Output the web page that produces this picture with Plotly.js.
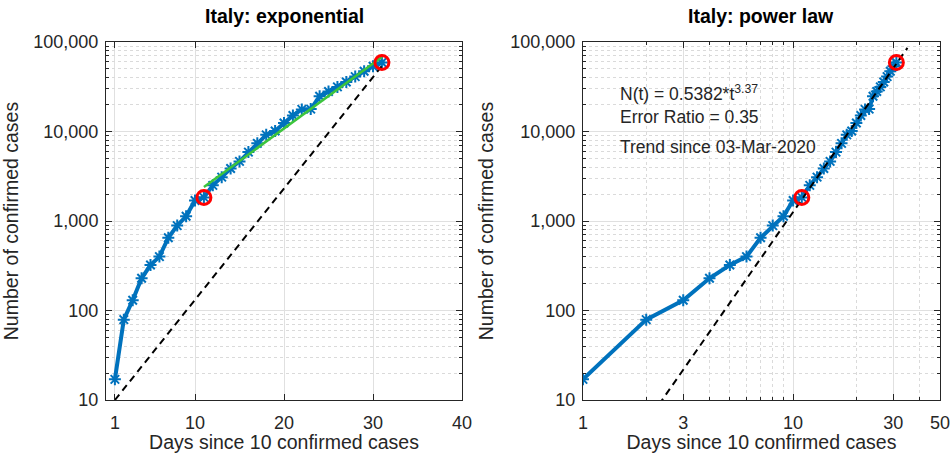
<!DOCTYPE html>
<html><head><meta charset="utf-8">
<script src="https://cdn.plot.ly/plotly-3.0.1.min.js"></script>
<style>html,body{margin:0;padding:0;background:#fff;}#chart{width:952px;height:453px;}</style>
</head><body><div id="chart"></div>
<script>
// ---- data ----
const days = [1,2,3,4,5,6,7,8,9,10,11,12,13,14,15,16,17,18,19,20,21,22,23,24,25,26,27,28,29,30,31];
const cases = [17,79,130,229,322,400,650,888,1128,1694,1835,2502,3089,3858,4636,5883,7375,9172,10149,12462,15113,17660,17800,24747,27980,31506,35713,41035,47021,53578,59138];
const trendDays = [11,31];
const trendCases = [1835,59138];
const expFitDays = [11,31];
const expFitCases = [2400,68000];
const expRefDays = [1,31];
const expRefCases = [10,54000];
const powFitDays = [2.3,35];
const powFitCases = [8.9,86000];
const yTickVals = [10,100,1000,10000,100000];
const yTickText = ['10','100','1,000','10,000','100,000'];
const yMinorVals = [20,30,40,50,60,70,80,90,200,300,400,500,600,700,800,900,2000,3000,4000,5000,6000,7000,8000,9000,20000,30000,40000,50000,60000,70000,80000,90000];
const xLinTickVals = [1,10,20,30,40];
const xLogTickVals = [1,3,10,30,50];
const xLogMinorVals = [2,4,5,6,7,8,9,20,40];
const fitText = ['N(t) = 0.5382*t<sup>3.37</sup>','Error Ratio = 0.35','Trend since 03-Mar-2020'];

const FONT = 'Liberation Sans, Arial, Helvetica, sans-serif';
const TXT = '#262626';
const BLUE = '#0072BD';

const dataLine = {mode:'lines+markers', line:{color:BLUE,width:4},
  marker:{symbol:'asterisk-open',size:10,color:BLUE,line:{color:BLUE,width:2}}};
const circ = {mode:'markers', marker:{symbol:'circle-open',size:14,color:'#FF0000',line:{color:'#FF0000',width:3}}};
const dash = {mode:'lines', line:{color:'#000',width:2,dash:'7px,5px'}};

const traces = [
  Object.assign({x:days,y:cases,xaxis:'x',yaxis:'y'},dataLine),
  {x:expFitDays,y:expFitCases,xaxis:'x',yaxis:'y',mode:'lines',line:{color:'#3CC43C',width:2.5}},
  Object.assign({x:expRefDays,y:expRefCases,xaxis:'x',yaxis:'y'},dash),
  Object.assign({x:trendDays,y:trendCases,xaxis:'x',yaxis:'y3'},circ),
  Object.assign({x:days,y:cases,xaxis:'x2',yaxis:'y2'},dataLine),
  Object.assign({x:powFitDays,y:powFitCases,xaxis:'x2',yaxis:'y4'},dash),
  Object.assign({x:trendDays,y:trendCases,xaxis:'x4',yaxis:'y2'},circ)
];

const tickFont = {family:FONT,size:18,color:TXT};
const titleFont = {family:FONT,size:19.5,color:TXT};
const common = {showline:true,linecolor:TXT,linewidth:1,mirror:'ticks',ticks:'inside',ticklen:6,tickcolor:TXT,
  showgrid:true,gridcolor:'#e0e0e0',gridwidth:1,zeroline:false,automargin:false,tickfont:tickFont};
const minor = {showline:false,showticklabels:false,ticks:'inside',ticklen:3,tickcolor:TXT,mirror:'ticks',
  showgrid:true,gridcolor:'#dadada',griddash:'dot',gridwidth:1,zeroline:false,automargin:false};

const D1 = [0,0.4269], D2 = [0.5719,1];
const layout = {
  width:952,height:453,paper_bgcolor:'#fff',plot_bgcolor:'#fff',showlegend:false,
  margin:{l:106,r:12,t:42,b:53},
  font:{family:FONT,color:TXT},
  xaxis:Object.assign({},common,{domain:D1,anchor:'y',range:[0,40],tickvals:xLinTickVals,ticklabelstandoff:6,
    title:{text:'Days since 10 confirmed cases',font:titleFont,standoff:4}}),
  yaxis:Object.assign({},common,{domain:[0,1],anchor:'x',type:'log',range:[1,5],tickvals:yTickVals,ticktext:yTickText,ticklabelstandoff:3,
    title:{text:'Number of confirmed cases',font:titleFont,standoff:11}}),
  yaxis3:Object.assign({},minor,{overlaying:'y',anchor:'x',type:'log',range:[1,5],tickvals:yMinorVals}),
  xaxis2:Object.assign({},common,{domain:D2,anchor:'y2',type:'log',range:[0,Math.log10(50)],tickvals:xLogTickVals,ticklabelstandoff:6,
    title:{text:'Days since 10 confirmed cases',font:titleFont,standoff:4}}),
  yaxis2:Object.assign({},common,{domain:[0,1],anchor:'x2',type:'log',range:[1,5],tickvals:yTickVals,ticktext:yTickText,ticklabelstandoff:3,
    title:{text:'Number of confirmed cases',font:titleFont,standoff:11}}),
  xaxis4:Object.assign({},minor,{overlaying:'x2',anchor:'y2',type:'log',range:[0,Math.log10(50)],tickvals:xLogMinorVals}),
  yaxis4:Object.assign({},minor,{overlaying:'y2',anchor:'x2',type:'log',range:[1,5],tickvals:yMinorVals}),
  annotations:[
    {text:'<b>Italy: exponential</b>',xref:'paper',yref:'paper',x:(D1[0]+D1[1])/2,y:1.073,xanchor:'center',yanchor:'middle',showarrow:false,font:{family:FONT,size:19.5,color:'#000'}},
    {text:'<b>Italy: power law</b>',xref:'paper',yref:'paper',x:(D2[0]+D2[1])/2,y:1.073,xanchor:'center',yanchor:'middle',showarrow:false,font:{family:FONT,size:19.5,color:'#000'}},
    {text:fitText[0],xref:'paper',yref:'paper',x:0.614,y:0.8575,xanchor:'left',yanchor:'middle',showarrow:false,font:{family:FONT,size:17.5,color:TXT}},
    {text:fitText[1],xref:'paper',yref:'paper',x:0.614,y:0.7905,xanchor:'left',yanchor:'middle',showarrow:false,font:{family:FONT,size:17.5,color:TXT}},
    {text:fitText[2],xref:'paper',yref:'paper',x:0.614,y:0.7067,xanchor:'left',yanchor:'middle',showarrow:false,font:{family:FONT,size:17.5,color:TXT}}
  ]
};
Plotly.newPlot('chart',traces,layout,{staticPlot:true,displayModeBar:false});
</script></body></html>
